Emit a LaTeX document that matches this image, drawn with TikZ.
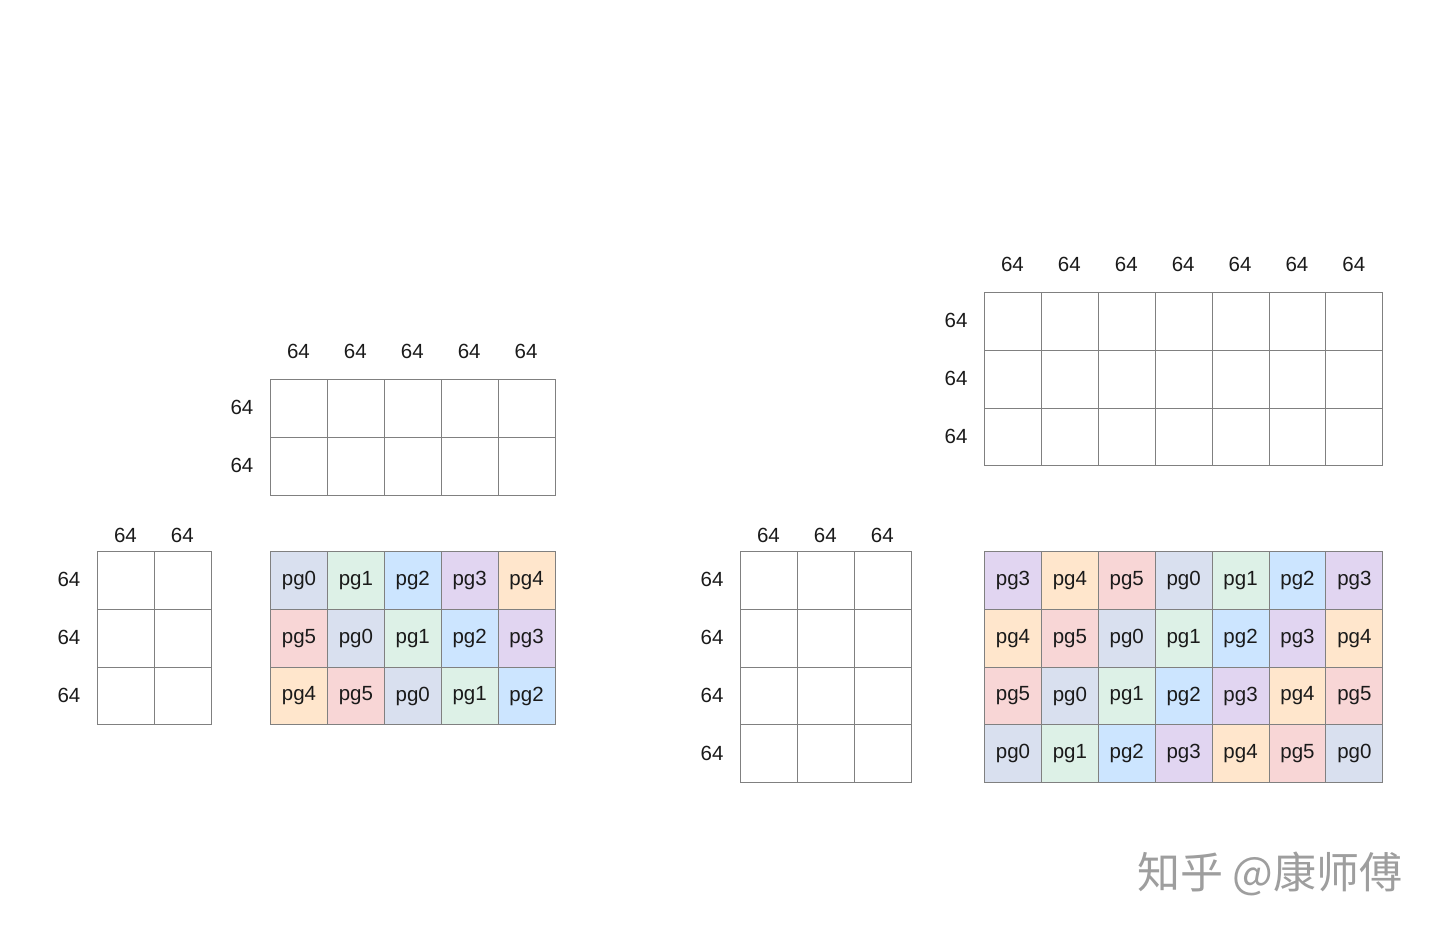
\documentclass[tikz,border=0pt]{standalone}
\usepackage{fontspec}
\setmainfont{Liberation Sans}
\newfontfamily\cjk{Noto Sans CJK SC}
\definecolor{linegray}{HTML}{808080}
\definecolor{pg0}{HTML}{D9E0EF}
\definecolor{pg1}{HTML}{DDF1E7}
\definecolor{pg2}{HTML}{CCE5FF}
\definecolor{pg3}{HTML}{E1D5F1}
\definecolor{pg4}{HTML}{FFE6CC}
\definecolor{pg5}{HTML}{F8D6D6}
\definecolor{txt}{HTML}{1A1A1A}
\begin{document}
\begin{tikzpicture}[x=1pt,y=-1pt,
  cell/.style={draw=linegray, line width=1pt, minimum width=56.9pt, minimum height=57.8pt,
    inner sep=0pt, anchor=north west, text=txt, font=\fontsize{20.5}{20.5}\selectfont},
  lab/.style={text=txt, inner sep=0pt, font=\fontsize{20.5}{20.5}\selectfont},
  wm/.style={text=black!38, inner sep=0pt, font=\cjk\fontsize{43}{43}\selectfont}]
\useasboundingbox (0,0) rectangle (1440,932);
\def\cw{56.9}\def\ch{57.8}
% ---------- plain grids ----------
% #1 name, #2 x0, #3 y0, #4 rows-1, #5 cols-1, #6 col label offset
\newcommand\plaingrid[6]{%
  \foreach \r in {0,...,#4}{\foreach \c in {0,...,#5}{%
    \node[cell] (#1-\r-\c) at ({#2+\c*\cw},{#3+\r*\ch}) {};}}
  \foreach \c in {0,...,#5}{\node[lab] (#1-top-\c) at ({#2+(\c+0.5)*\cw},{#3-#6}) {64};}
  \foreach \r in {0,...,#4}{\node[lab] (#1-left-\r) at ({#2-28},{#3+(\r+0.5)*\ch}) {64};}
}
\plaingrid{LT}{270}{379}{1}{4}{28}
\plaingrid{LS}{97}{551}{2}{1}{16}
\plaingrid{RT}{984}{292}{2}{6}{28}
\plaingrid{RS}{740}{551}{3}{2}{16}
% ---------- coloured grids ----------
% #1 name, #2 x0, #3 y0, #4 rows-1, #5 cols-1, #6 start, #7 row step
\newcommand\pggrid[7]{%
  \foreach \r in {0,...,#4}{\foreach \c in {0,...,#5}{%
    \pgfmathtruncatemacro\k{mod(#6+#7*\r+\c,6)}%
    \node[cell, fill=pg\k] (#1-\r-\c) at ({#2+\c*\cw},{#3+\r*\ch}) {pg\k};}}
}
\pggrid{LC}{270}{551}{2}{4}{0}{5}
\pggrid{RC}{984}{551}{3}{6}{3}{1}
% ---------- watermark ----------
\node[wm] (wm) at (1270,874) {知乎 @康师傅};
\end{tikzpicture}
\end{document}
